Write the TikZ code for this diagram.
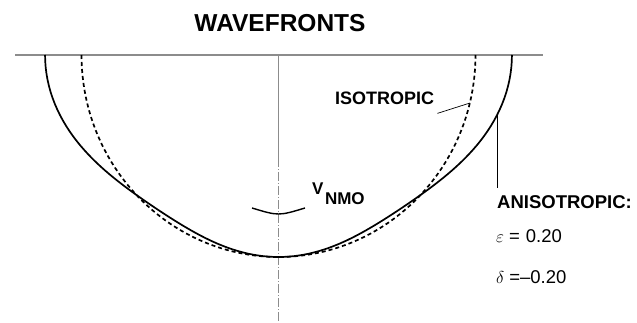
\documentclass[tikz,border=0pt]{standalone}
\usepackage{fontspec}
\setmainfont{Liberation Sans}
\usepackage{amsmath,amssymb}
\usepackage{xcolor}
\usetikzlibrary{positioning,calc}
\definecolor{wfgray}{HTML}{8C8C8C}
\newcommand{\wfsize}[1]{\fontsize{#1}{#1}\selectfont}

\begin{document}
\begin{tikzpicture}[x=1pt,y=-1pt,
  declare function={vg(\t)=1-0.2*sin(\t)*sin(\t)*cos(\t)*cos(\t)+0.185*sin(\t)*sin(\t)*sin(\t)*sin(\t);},
  lbl/.style={inner sep=0pt,anchor=base west,font=\wfsize{18}\bfseries},
  val/.style={inner sep=0pt,anchor=base west,font=\wfsize{18.5}},
  aniso/.style={line width=1.7pt,black},
  iso/.style={line width=1.7pt,black,dash pattern=on 4pt off 3pt},
  guide/.style={line width=1pt,wfgray},
  lead/.style={line width=0.7pt,black}]
  \useasboundingbox (0,0) rectangle (637,323);
  \node[font=\wfsize{24.5}\bfseries] (title) at (280,23) {WAVEFRONTS};
  % surface and symmetry axis
  \coordinate (sl) at (15,55); \coordinate (sr) at (543,55);
  \coordinate (ctop) at (278.5,55); \coordinate (cmid) at (278.5,158); \coordinate (cbot) at (278.5,321);
  \draw[guide,line width=1.3pt] (sl)--(sr);
  \draw[guide] (ctop)--(cmid);
  \draw[guide,line width=0.7pt,dash pattern=on 9pt off 2pt on 1pt off 2pt] (cmid)--(cbot);
  % wavefronts
  \draw[iso] plot[domain=-90:90,samples=91,variable=\t] ({278.5+197*sin(\t)},{55+202*cos(\t)});
  \draw[aniso] plot[domain=-90:90,samples=121,variable=\t] ({278.5+197*vg(\t)*sin(\t)},{55+202*vg(\t)*cos(\t)});
  \draw[aniso,line width=1.4pt] (252,208) .. controls (278.5,216) .. (305,208);
  % labels
  \node[lbl] (iso) at (335,105) {ISOTROPIC};
  \coordinate (isotip) at (470,103);
  \draw[lead] ([shift={(3,8)}]iso.south east)--(isotip);
  \node[lbl,font=\wfsize{18.5}\bfseries] (ani) at (497,208) {ANISOTROPIC:};
  \coordinate (anitip) at (497,114);
  \draw[lead] (anitip)--([shift={(0,-7)}]ani.north west);
  \node[val] (eps) at (496,243) {$\varepsilon$\hspace{5pt}=\hspace{6pt}0.20};
  \node[val] (del) at (496,283) {$\delta$\hspace{5pt}=--0.20};
  \node[lbl,font=\wfsize{17}\bfseries] (vnmo) at (312,195) {V\hspace{1.5pt}\raisebox{-10pt}{NMO}};
\end{tikzpicture}
\end{document}
